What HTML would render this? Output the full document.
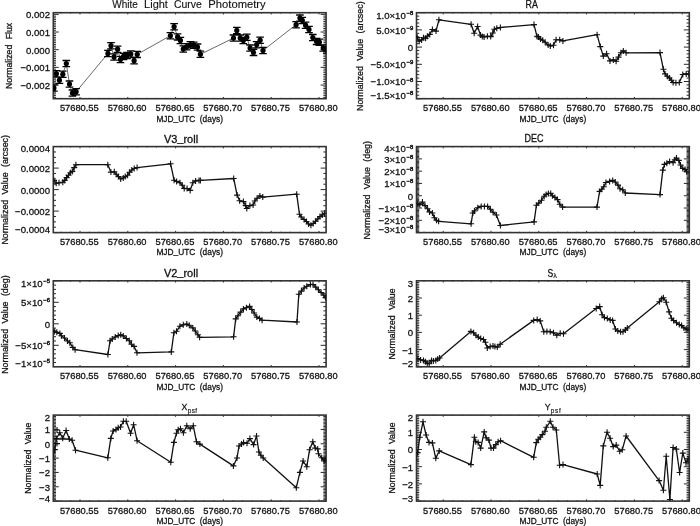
<!DOCTYPE html>
<html><head><meta charset="utf-8"><style>
html,body{margin:0;padding:0;background:#fff;}
svg{display:block;}
text{font-family:"Liberation Sans", sans-serif;fill:#111;stroke:#111;stroke-width:0.28px;}
svg{will-change:transform;}
.tl{font-size:9.6px;}
.at{font-size:9.2px;}
.ti{font-size:10.3px;}
</style></head><body>
<svg width="700" height="526" viewBox="0 0 700 526">
<rect width="700" height="526" fill="#fff"/>
<path d="M53.30 97.41h2.73M326.10 97.41h-2.73M53.30 95.64h2.73M326.10 95.64h-2.73M53.30 93.88h2.73M326.10 93.88h-2.73M53.30 92.11h2.73M326.10 92.11h-2.73M53.30 90.34h2.73M326.10 90.34h-2.73M53.30 88.58h2.73M326.10 88.58h-2.73M53.30 86.81h2.73M326.10 86.81h-2.73M53.30 85.04h5.46M326.10 85.04h-5.46M53.30 83.27h2.73M326.10 83.27h-2.73M53.30 81.51h2.73M326.10 81.51h-2.73M53.30 79.74h2.73M326.10 79.74h-2.73M53.30 77.97h2.73M326.10 77.97h-2.73M53.30 76.21h2.73M326.10 76.21h-2.73M53.30 74.44h2.73M326.10 74.44h-2.73M53.30 72.67h2.73M326.10 72.67h-2.73M53.30 70.91h2.73M326.10 70.91h-2.73M53.30 69.14h2.73M326.10 69.14h-2.73M53.30 67.37h5.46M326.10 67.37h-5.46M53.30 65.60h2.73M326.10 65.60h-2.73M53.30 63.84h2.73M326.10 63.84h-2.73M53.30 62.07h2.73M326.10 62.07h-2.73M53.30 60.30h2.73M326.10 60.30h-2.73M53.30 58.54h2.73M326.10 58.54h-2.73M53.30 56.77h2.73M326.10 56.77h-2.73M53.30 55.00h2.73M326.10 55.00h-2.73M53.30 53.24h2.73M326.10 53.24h-2.73M53.30 51.47h2.73M326.10 51.47h-2.73M53.30 49.70h5.46M326.10 49.70h-5.46M53.30 47.93h2.73M326.10 47.93h-2.73M53.30 46.17h2.73M326.10 46.17h-2.73M53.30 44.40h2.73M326.10 44.40h-2.73M53.30 42.63h2.73M326.10 42.63h-2.73M53.30 40.87h2.73M326.10 40.87h-2.73M53.30 39.10h2.73M326.10 39.10h-2.73M53.30 37.33h2.73M326.10 37.33h-2.73M53.30 35.57h2.73M326.10 35.57h-2.73M53.30 33.80h2.73M326.10 33.80h-2.73M53.30 32.03h5.46M326.10 32.03h-5.46M53.30 30.26h2.73M326.10 30.26h-2.73M53.30 28.50h2.73M326.10 28.50h-2.73M53.30 26.73h2.73M326.10 26.73h-2.73M53.30 24.96h2.73M326.10 24.96h-2.73M53.30 23.20h2.73M326.10 23.20h-2.73M53.30 21.43h2.73M326.10 21.43h-2.73M53.30 19.66h2.73M326.10 19.66h-2.73M53.30 17.89h2.73M326.10 17.89h-2.73M53.30 16.13h2.73M326.10 16.13h-2.73M53.30 14.36h5.46M326.10 14.36h-5.46M60.88 98.70v-0.86M60.88 12.70v0.86M70.44 98.70v-0.86M70.44 12.70v0.86M80.00 98.70v-1.72M80.00 12.70v1.72M89.56 98.70v-0.86M89.56 12.70v0.86M99.12 98.70v-0.86M99.12 12.70v0.86M108.68 98.70v-0.86M108.68 12.70v0.86M118.24 98.70v-0.86M118.24 12.70v0.86M127.80 98.70v-1.72M127.80 12.70v1.72M137.36 98.70v-0.86M137.36 12.70v0.86M146.92 98.70v-0.86M146.92 12.70v0.86M156.48 98.70v-0.86M156.48 12.70v0.86M166.04 98.70v-0.86M166.04 12.70v0.86M175.60 98.70v-1.72M175.60 12.70v1.72M185.16 98.70v-0.86M185.16 12.70v0.86M194.72 98.70v-0.86M194.72 12.70v0.86M204.28 98.70v-0.86M204.28 12.70v0.86M213.84 98.70v-0.86M213.84 12.70v0.86M223.40 98.70v-1.72M223.40 12.70v1.72M232.96 98.70v-0.86M232.96 12.70v0.86M242.52 98.70v-0.86M242.52 12.70v0.86M252.08 98.70v-0.86M252.08 12.70v0.86M261.64 98.70v-0.86M261.64 12.70v0.86M271.20 98.70v-1.72M271.20 12.70v1.72M280.76 98.70v-0.86M280.76 12.70v0.86M290.32 98.70v-0.86M290.32 12.70v0.86M299.88 98.70v-0.86M299.88 12.70v0.86M309.44 98.70v-0.86M309.44 12.70v0.86M319.00 98.70v-1.72M319.00 12.70v1.72" stroke="#2a2a2a" stroke-width="1.0" fill="none"/>
<rect x="53.3" y="12.7" width="272.80" height="86.0" fill="none" stroke="#333" stroke-width="1.6"/>
<text x="50.00" y="18.26" text-anchor="end" class="tl">0.002</text>
<text x="50.00" y="35.93" text-anchor="end" class="tl">0.001</text>
<text x="50.00" y="53.60" text-anchor="end" class="tl">0.000</text>
<text x="50.00" y="71.27" text-anchor="end" class="tl">−0.001</text>
<text x="50.00" y="88.94" text-anchor="end" class="tl">−0.002</text>
<text x="59.90" y="111.10" class="tl" textLength="38.8" lengthAdjust="spacingAndGlyphs">57680.55</text>
<text x="107.70" y="111.10" class="tl" textLength="38.8" lengthAdjust="spacingAndGlyphs">57680.60</text>
<text x="155.50" y="111.10" class="tl" textLength="38.8" lengthAdjust="spacingAndGlyphs">57680.65</text>
<text x="203.30" y="111.10" class="tl" textLength="38.8" lengthAdjust="spacingAndGlyphs">57680.70</text>
<text x="251.10" y="111.10" class="tl" textLength="38.8" lengthAdjust="spacingAndGlyphs">57680.75</text>
<text x="298.90" y="111.10" class="tl" textLength="38.8" lengthAdjust="spacingAndGlyphs">57680.80</text>
<text x="156.40" y="121.50" class="at" style="word-spacing:2.5px" textLength="66.6" lengthAdjust="spacingAndGlyphs">MJD<tspan dy="-1">_</tspan><tspan dy="1">UTC (days)</tspan></text>
<path d="M416.50 98.70h5.46M689.30 98.70h-5.46M416.50 95.26h2.73M689.30 95.26h-2.73M416.50 91.82h2.73M689.30 91.82h-2.73M416.50 88.38h2.73M689.30 88.38h-2.73M416.50 84.94h2.73M689.30 84.94h-2.73M416.50 81.50h5.46M689.30 81.50h-5.46M416.50 78.06h2.73M689.30 78.06h-2.73M416.50 74.62h2.73M689.30 74.62h-2.73M416.50 71.18h2.73M689.30 71.18h-2.73M416.50 67.74h2.73M689.30 67.74h-2.73M416.50 64.30h5.46M689.30 64.30h-5.46M416.50 60.86h2.73M689.30 60.86h-2.73M416.50 57.42h2.73M689.30 57.42h-2.73M416.50 53.98h2.73M689.30 53.98h-2.73M416.50 50.54h2.73M689.30 50.54h-2.73M416.50 47.10h5.46M689.30 47.10h-5.46M416.50 43.66h2.73M689.30 43.66h-2.73M416.50 40.22h2.73M689.30 40.22h-2.73M416.50 36.78h2.73M689.30 36.78h-2.73M416.50 33.34h2.73M689.30 33.34h-2.73M416.50 29.90h5.46M689.30 29.90h-5.46M416.50 26.46h2.73M689.30 26.46h-2.73M416.50 23.02h2.73M689.30 23.02h-2.73M416.50 19.58h2.73M689.30 19.58h-2.73M416.50 16.14h2.73M689.30 16.14h-2.73M416.50 12.70h5.46M689.30 12.70h-5.46M424.08 98.70v-0.86M424.08 12.70v0.86M433.64 98.70v-0.86M433.64 12.70v0.86M443.20 98.70v-1.72M443.20 12.70v1.72M452.76 98.70v-0.86M452.76 12.70v0.86M462.32 98.70v-0.86M462.32 12.70v0.86M471.88 98.70v-0.86M471.88 12.70v0.86M481.44 98.70v-0.86M481.44 12.70v0.86M491.00 98.70v-1.72M491.00 12.70v1.72M500.56 98.70v-0.86M500.56 12.70v0.86M510.12 98.70v-0.86M510.12 12.70v0.86M519.68 98.70v-0.86M519.68 12.70v0.86M529.24 98.70v-0.86M529.24 12.70v0.86M538.80 98.70v-1.72M538.80 12.70v1.72M548.36 98.70v-0.86M548.36 12.70v0.86M557.92 98.70v-0.86M557.92 12.70v0.86M567.48 98.70v-0.86M567.48 12.70v0.86M577.04 98.70v-0.86M577.04 12.70v0.86M586.60 98.70v-1.72M586.60 12.70v1.72M596.16 98.70v-0.86M596.16 12.70v0.86M605.72 98.70v-0.86M605.72 12.70v0.86M615.28 98.70v-0.86M615.28 12.70v0.86M624.84 98.70v-0.86M624.84 12.70v0.86M634.40 98.70v-1.72M634.40 12.70v1.72M643.96 98.70v-0.86M643.96 12.70v0.86M653.52 98.70v-0.86M653.52 12.70v0.86M663.08 98.70v-0.86M663.08 12.70v0.86M672.64 98.70v-0.86M672.64 12.70v0.86M682.20 98.70v-1.72M682.20 12.70v1.72" stroke="#2a2a2a" stroke-width="1.0" fill="none"/>
<rect x="416.5" y="12.7" width="272.80" height="86.0" fill="none" stroke="#333" stroke-width="1.6"/>
<text x="413.20" y="18.50" text-anchor="end" class="tl">1.0×10<tspan dx="0.7" dy="-3.9" font-size="5.9" style="stroke-width:0.45px">−8</tspan></text>
<text x="413.20" y="33.80" text-anchor="end" class="tl">5.0×10<tspan dx="0.7" dy="-3.9" font-size="5.9" style="stroke-width:0.45px">−9</tspan></text>
<text x="413.20" y="51.00" text-anchor="end" class="tl">0</text>
<text x="413.20" y="68.20" text-anchor="end" class="tl">−5.0×10<tspan dx="0.7" dy="-3.9" font-size="5.9" style="stroke-width:0.45px">−9</tspan></text>
<text x="413.20" y="85.40" text-anchor="end" class="tl">−1.0×10<tspan dx="0.7" dy="-3.9" font-size="5.9" style="stroke-width:0.45px">−8</tspan></text>
<text x="413.20" y="99.10" text-anchor="end" class="tl">−1.5×10<tspan dx="0.7" dy="-3.9" font-size="5.9" style="stroke-width:0.45px">−8</tspan></text>
<text x="423.10" y="111.10" class="tl" textLength="38.8" lengthAdjust="spacingAndGlyphs">57680.55</text>
<text x="470.90" y="111.10" class="tl" textLength="38.8" lengthAdjust="spacingAndGlyphs">57680.60</text>
<text x="518.70" y="111.10" class="tl" textLength="38.8" lengthAdjust="spacingAndGlyphs">57680.65</text>
<text x="566.50" y="111.10" class="tl" textLength="38.8" lengthAdjust="spacingAndGlyphs">57680.70</text>
<text x="614.30" y="111.10" class="tl" textLength="38.8" lengthAdjust="spacingAndGlyphs">57680.75</text>
<text x="662.10" y="111.10" class="tl" textLength="38.8" lengthAdjust="spacingAndGlyphs">57680.80</text>
<text x="519.60" y="121.50" class="at" style="word-spacing:2.5px" textLength="66.6" lengthAdjust="spacingAndGlyphs">MJD<tspan dy="-1">_</tspan><tspan dy="1">UTC (days)</tspan></text>
<path d="M53.30 232.60h5.46M326.10 232.60h-5.46M53.30 227.22h2.73M326.10 227.22h-2.73M53.30 221.85h2.73M326.10 221.85h-2.73M53.30 216.47h2.73M326.10 216.47h-2.73M53.30 211.10h5.46M326.10 211.10h-5.46M53.30 205.72h2.73M326.10 205.72h-2.73M53.30 200.35h2.73M326.10 200.35h-2.73M53.30 194.97h2.73M326.10 194.97h-2.73M53.30 189.60h5.46M326.10 189.60h-5.46M53.30 184.22h2.73M326.10 184.22h-2.73M53.30 178.85h2.73M326.10 178.85h-2.73M53.30 173.47h2.73M326.10 173.47h-2.73M53.30 168.10h5.46M326.10 168.10h-5.46M53.30 162.72h2.73M326.10 162.72h-2.73M53.30 157.35h2.73M326.10 157.35h-2.73M53.30 151.97h2.73M326.10 151.97h-2.73M60.88 232.60v-0.86M60.88 146.60v0.86M70.44 232.60v-0.86M70.44 146.60v0.86M80.00 232.60v-1.72M80.00 146.60v1.72M89.56 232.60v-0.86M89.56 146.60v0.86M99.12 232.60v-0.86M99.12 146.60v0.86M108.68 232.60v-0.86M108.68 146.60v0.86M118.24 232.60v-0.86M118.24 146.60v0.86M127.80 232.60v-1.72M127.80 146.60v1.72M137.36 232.60v-0.86M137.36 146.60v0.86M146.92 232.60v-0.86M146.92 146.60v0.86M156.48 232.60v-0.86M156.48 146.60v0.86M166.04 232.60v-0.86M166.04 146.60v0.86M175.60 232.60v-1.72M175.60 146.60v1.72M185.16 232.60v-0.86M185.16 146.60v0.86M194.72 232.60v-0.86M194.72 146.60v0.86M204.28 232.60v-0.86M204.28 146.60v0.86M213.84 232.60v-0.86M213.84 146.60v0.86M223.40 232.60v-1.72M223.40 146.60v1.72M232.96 232.60v-0.86M232.96 146.60v0.86M242.52 232.60v-0.86M242.52 146.60v0.86M252.08 232.60v-0.86M252.08 146.60v0.86M261.64 232.60v-0.86M261.64 146.60v0.86M271.20 232.60v-1.72M271.20 146.60v1.72M280.76 232.60v-0.86M280.76 146.60v0.86M290.32 232.60v-0.86M290.32 146.60v0.86M299.88 232.60v-0.86M299.88 146.60v0.86M309.44 232.60v-0.86M309.44 146.60v0.86M319.00 232.60v-1.72M319.00 146.60v1.72" stroke="#2a2a2a" stroke-width="1.0" fill="none"/>
<rect x="53.3" y="146.6" width="272.80" height="86.0" fill="none" stroke="#333" stroke-width="1.6"/>
<text x="50.00" y="152.40" text-anchor="end" class="tl">0.0004</text>
<text x="50.00" y="172.00" text-anchor="end" class="tl">0.0002</text>
<text x="50.00" y="193.50" text-anchor="end" class="tl">0.0000</text>
<text x="50.00" y="215.00" text-anchor="end" class="tl">−0.0002</text>
<text x="50.00" y="233.00" text-anchor="end" class="tl">−0.0004</text>
<text x="59.90" y="245.00" class="tl" textLength="38.8" lengthAdjust="spacingAndGlyphs">57680.55</text>
<text x="107.70" y="245.00" class="tl" textLength="38.8" lengthAdjust="spacingAndGlyphs">57680.60</text>
<text x="155.50" y="245.00" class="tl" textLength="38.8" lengthAdjust="spacingAndGlyphs">57680.65</text>
<text x="203.30" y="245.00" class="tl" textLength="38.8" lengthAdjust="spacingAndGlyphs">57680.70</text>
<text x="251.10" y="245.00" class="tl" textLength="38.8" lengthAdjust="spacingAndGlyphs">57680.75</text>
<text x="298.90" y="245.00" class="tl" textLength="38.8" lengthAdjust="spacingAndGlyphs">57680.80</text>
<text x="156.40" y="255.40" class="at" style="word-spacing:2.5px" textLength="66.6" lengthAdjust="spacingAndGlyphs">MJD<tspan dy="-1">_</tspan><tspan dy="1">UTC (days)</tspan></text>
<path d="M416.50 232.60h5.46M689.30 232.60h-5.46M416.50 231.37h2.73M689.30 231.37h-2.73M416.50 230.14h2.73M689.30 230.14h-2.73M416.50 228.91h2.73M689.30 228.91h-2.73M416.50 227.69h2.73M689.30 227.69h-2.73M416.50 226.46h2.73M689.30 226.46h-2.73M416.50 225.23h2.73M689.30 225.23h-2.73M416.50 224.00h2.73M689.30 224.00h-2.73M416.50 222.77h2.73M689.30 222.77h-2.73M416.50 221.54h2.73M689.30 221.54h-2.73M416.50 220.31h5.46M689.30 220.31h-5.46M416.50 219.09h2.73M689.30 219.09h-2.73M416.50 217.86h2.73M689.30 217.86h-2.73M416.50 216.63h2.73M689.30 216.63h-2.73M416.50 215.40h2.73M689.30 215.40h-2.73M416.50 214.17h2.73M689.30 214.17h-2.73M416.50 212.94h2.73M689.30 212.94h-2.73M416.50 211.71h2.73M689.30 211.71h-2.73M416.50 210.49h2.73M689.30 210.49h-2.73M416.50 209.26h2.73M689.30 209.26h-2.73M416.50 208.03h5.46M689.30 208.03h-5.46M416.50 206.80h2.73M689.30 206.80h-2.73M416.50 205.57h2.73M689.30 205.57h-2.73M416.50 204.34h2.73M689.30 204.34h-2.73M416.50 203.11h2.73M689.30 203.11h-2.73M416.50 201.89h2.73M689.30 201.89h-2.73M416.50 200.66h2.73M689.30 200.66h-2.73M416.50 199.43h2.73M689.30 199.43h-2.73M416.50 198.20h2.73M689.30 198.20h-2.73M416.50 196.97h2.73M689.30 196.97h-2.73M416.50 195.74h5.46M689.30 195.74h-5.46M416.50 194.51h2.73M689.30 194.51h-2.73M416.50 193.29h2.73M689.30 193.29h-2.73M416.50 192.06h2.73M689.30 192.06h-2.73M416.50 190.83h2.73M689.30 190.83h-2.73M416.50 189.60h2.73M689.30 189.60h-2.73M416.50 188.37h2.73M689.30 188.37h-2.73M416.50 187.14h2.73M689.30 187.14h-2.73M416.50 185.91h2.73M689.30 185.91h-2.73M416.50 184.69h2.73M689.30 184.69h-2.73M416.50 183.46h5.46M689.30 183.46h-5.46M416.50 182.23h2.73M689.30 182.23h-2.73M416.50 181.00h2.73M689.30 181.00h-2.73M416.50 179.77h2.73M689.30 179.77h-2.73M416.50 178.54h2.73M689.30 178.54h-2.73M416.50 177.31h2.73M689.30 177.31h-2.73M416.50 176.09h2.73M689.30 176.09h-2.73M416.50 174.86h2.73M689.30 174.86h-2.73M416.50 173.63h2.73M689.30 173.63h-2.73M416.50 172.40h2.73M689.30 172.40h-2.73M416.50 171.17h5.46M689.30 171.17h-5.46M416.50 169.94h2.73M689.30 169.94h-2.73M416.50 168.71h2.73M689.30 168.71h-2.73M416.50 167.49h2.73M689.30 167.49h-2.73M416.50 166.26h2.73M689.30 166.26h-2.73M416.50 165.03h2.73M689.30 165.03h-2.73M416.50 163.80h2.73M689.30 163.80h-2.73M416.50 162.57h2.73M689.30 162.57h-2.73M416.50 161.34h2.73M689.30 161.34h-2.73M416.50 160.11h2.73M689.30 160.11h-2.73M416.50 158.89h5.46M689.30 158.89h-5.46M416.50 157.66h2.73M689.30 157.66h-2.73M416.50 156.43h2.73M689.30 156.43h-2.73M416.50 155.20h2.73M689.30 155.20h-2.73M416.50 153.97h2.73M689.30 153.97h-2.73M416.50 152.74h2.73M689.30 152.74h-2.73M416.50 151.51h2.73M689.30 151.51h-2.73M416.50 150.29h2.73M689.30 150.29h-2.73M416.50 149.06h2.73M689.30 149.06h-2.73M416.50 147.83h2.73M689.30 147.83h-2.73M416.50 146.60h5.46M689.30 146.60h-5.46M424.08 232.60v-0.86M424.08 146.60v0.86M433.64 232.60v-0.86M433.64 146.60v0.86M443.20 232.60v-1.72M443.20 146.60v1.72M452.76 232.60v-0.86M452.76 146.60v0.86M462.32 232.60v-0.86M462.32 146.60v0.86M471.88 232.60v-0.86M471.88 146.60v0.86M481.44 232.60v-0.86M481.44 146.60v0.86M491.00 232.60v-1.72M491.00 146.60v1.72M500.56 232.60v-0.86M500.56 146.60v0.86M510.12 232.60v-0.86M510.12 146.60v0.86M519.68 232.60v-0.86M519.68 146.60v0.86M529.24 232.60v-0.86M529.24 146.60v0.86M538.80 232.60v-1.72M538.80 146.60v1.72M548.36 232.60v-0.86M548.36 146.60v0.86M557.92 232.60v-0.86M557.92 146.60v0.86M567.48 232.60v-0.86M567.48 146.60v0.86M577.04 232.60v-0.86M577.04 146.60v0.86M586.60 232.60v-1.72M586.60 146.60v1.72M596.16 232.60v-0.86M596.16 146.60v0.86M605.72 232.60v-0.86M605.72 146.60v0.86M615.28 232.60v-0.86M615.28 146.60v0.86M624.84 232.60v-0.86M624.84 146.60v0.86M634.40 232.60v-1.72M634.40 146.60v1.72M643.96 232.60v-0.86M643.96 146.60v0.86M653.52 232.60v-0.86M653.52 146.60v0.86M663.08 232.60v-0.86M663.08 146.60v0.86M672.64 232.60v-0.86M672.64 146.60v0.86M682.20 232.60v-1.72M682.20 146.60v1.72" stroke="#2a2a2a" stroke-width="1.0" fill="none"/>
<rect x="416.5" y="146.6" width="272.80" height="86.0" fill="none" stroke="#333" stroke-width="1.6"/>
<text x="413.20" y="152.40" text-anchor="end" class="tl">4×10<tspan dx="0.7" dy="-3.9" font-size="5.9" style="stroke-width:0.45px">−8</tspan></text>
<text x="413.20" y="162.79" text-anchor="end" class="tl">3×10<tspan dx="0.7" dy="-3.9" font-size="5.9" style="stroke-width:0.45px">−8</tspan></text>
<text x="413.20" y="175.07" text-anchor="end" class="tl">2×10<tspan dx="0.7" dy="-3.9" font-size="5.9" style="stroke-width:0.45px">−8</tspan></text>
<text x="413.20" y="187.36" text-anchor="end" class="tl">1×10<tspan dx="0.7" dy="-3.9" font-size="5.9" style="stroke-width:0.45px">−8</tspan></text>
<text x="413.20" y="199.64" text-anchor="end" class="tl">0</text>
<text x="413.20" y="211.93" text-anchor="end" class="tl">−1×10<tspan dx="0.7" dy="-3.9" font-size="5.9" style="stroke-width:0.45px">−8</tspan></text>
<text x="413.20" y="224.21" text-anchor="end" class="tl">−2×10<tspan dx="0.7" dy="-3.9" font-size="5.9" style="stroke-width:0.45px">−8</tspan></text>
<text x="413.20" y="233.00" text-anchor="end" class="tl">−3×10<tspan dx="0.7" dy="-3.9" font-size="5.9" style="stroke-width:0.45px">−8</tspan></text>
<text x="423.10" y="245.00" class="tl" textLength="38.8" lengthAdjust="spacingAndGlyphs">57680.55</text>
<text x="470.90" y="245.00" class="tl" textLength="38.8" lengthAdjust="spacingAndGlyphs">57680.60</text>
<text x="518.70" y="245.00" class="tl" textLength="38.8" lengthAdjust="spacingAndGlyphs">57680.65</text>
<text x="566.50" y="245.00" class="tl" textLength="38.8" lengthAdjust="spacingAndGlyphs">57680.70</text>
<text x="614.30" y="245.00" class="tl" textLength="38.8" lengthAdjust="spacingAndGlyphs">57680.75</text>
<text x="662.10" y="245.00" class="tl" textLength="38.8" lengthAdjust="spacingAndGlyphs">57680.80</text>
<text x="519.60" y="255.40" class="at" style="word-spacing:2.5px" textLength="66.6" lengthAdjust="spacingAndGlyphs">MJD<tspan dy="-1">_</tspan><tspan dy="1">UTC (days)</tspan></text>
<path d="M53.30 362.50h2.73M326.10 362.50h-2.73M53.30 358.20h2.73M326.10 358.20h-2.73M53.30 353.90h2.73M326.10 353.90h-2.73M53.30 349.60h2.73M326.10 349.60h-2.73M53.30 345.30h5.46M326.10 345.30h-5.46M53.30 341.00h2.73M326.10 341.00h-2.73M53.30 336.70h2.73M326.10 336.70h-2.73M53.30 332.40h2.73M326.10 332.40h-2.73M53.30 328.10h2.73M326.10 328.10h-2.73M53.30 323.80h5.46M326.10 323.80h-5.46M53.30 319.50h2.73M326.10 319.50h-2.73M53.30 315.20h2.73M326.10 315.20h-2.73M53.30 310.90h2.73M326.10 310.90h-2.73M53.30 306.60h2.73M326.10 306.60h-2.73M53.30 302.30h5.46M326.10 302.30h-5.46M53.30 298.00h2.73M326.10 298.00h-2.73M53.30 293.70h2.73M326.10 293.70h-2.73M53.30 289.40h2.73M326.10 289.40h-2.73M53.30 285.10h2.73M326.10 285.10h-2.73M53.30 280.80h5.46M326.10 280.80h-5.46M60.88 366.80v-0.86M60.88 280.80v0.86M70.44 366.80v-0.86M70.44 280.80v0.86M80.00 366.80v-1.72M80.00 280.80v1.72M89.56 366.80v-0.86M89.56 280.80v0.86M99.12 366.80v-0.86M99.12 280.80v0.86M108.68 366.80v-0.86M108.68 280.80v0.86M118.24 366.80v-0.86M118.24 280.80v0.86M127.80 366.80v-1.72M127.80 280.80v1.72M137.36 366.80v-0.86M137.36 280.80v0.86M146.92 366.80v-0.86M146.92 280.80v0.86M156.48 366.80v-0.86M156.48 280.80v0.86M166.04 366.80v-0.86M166.04 280.80v0.86M175.60 366.80v-1.72M175.60 280.80v1.72M185.16 366.80v-0.86M185.16 280.80v0.86M194.72 366.80v-0.86M194.72 280.80v0.86M204.28 366.80v-0.86M204.28 280.80v0.86M213.84 366.80v-0.86M213.84 280.80v0.86M223.40 366.80v-1.72M223.40 280.80v1.72M232.96 366.80v-0.86M232.96 280.80v0.86M242.52 366.80v-0.86M242.52 280.80v0.86M252.08 366.80v-0.86M252.08 280.80v0.86M261.64 366.80v-0.86M261.64 280.80v0.86M271.20 366.80v-1.72M271.20 280.80v1.72M280.76 366.80v-0.86M280.76 280.80v0.86M290.32 366.80v-0.86M290.32 280.80v0.86M299.88 366.80v-0.86M299.88 280.80v0.86M309.44 366.80v-0.86M309.44 280.80v0.86M319.00 366.80v-1.72M319.00 280.80v1.72" stroke="#2a2a2a" stroke-width="1.0" fill="none"/>
<rect x="53.3" y="280.8" width="272.80" height="86.0" fill="none" stroke="#333" stroke-width="1.6"/>
<text x="50.00" y="286.60" text-anchor="end" class="tl">1×10<tspan dx="0.7" dy="-3.9" font-size="5.9" style="stroke-width:0.45px">−5</tspan></text>
<text x="50.00" y="306.20" text-anchor="end" class="tl">5×10<tspan dx="0.7" dy="-3.9" font-size="5.9" style="stroke-width:0.45px">−6</tspan></text>
<text x="50.00" y="327.70" text-anchor="end" class="tl">0</text>
<text x="50.00" y="349.20" text-anchor="end" class="tl">−5×10<tspan dx="0.7" dy="-3.9" font-size="5.9" style="stroke-width:0.45px">−6</tspan></text>
<text x="50.00" y="367.20" text-anchor="end" class="tl">−1×10<tspan dx="0.7" dy="-3.9" font-size="5.9" style="stroke-width:0.45px">−5</tspan></text>
<text x="59.90" y="379.20" class="tl" textLength="38.8" lengthAdjust="spacingAndGlyphs">57680.55</text>
<text x="107.70" y="379.20" class="tl" textLength="38.8" lengthAdjust="spacingAndGlyphs">57680.60</text>
<text x="155.50" y="379.20" class="tl" textLength="38.8" lengthAdjust="spacingAndGlyphs">57680.65</text>
<text x="203.30" y="379.20" class="tl" textLength="38.8" lengthAdjust="spacingAndGlyphs">57680.70</text>
<text x="251.10" y="379.20" class="tl" textLength="38.8" lengthAdjust="spacingAndGlyphs">57680.75</text>
<text x="298.90" y="379.20" class="tl" textLength="38.8" lengthAdjust="spacingAndGlyphs">57680.80</text>
<text x="156.40" y="389.60" class="at" style="word-spacing:2.5px" textLength="66.6" lengthAdjust="spacingAndGlyphs">MJD<tspan dy="-1">_</tspan><tspan dy="1">UTC (days)</tspan></text>
<path d="M416.50 366.80h5.46M689.30 366.80h-5.46M416.50 365.08h2.73M689.30 365.08h-2.73M416.50 363.36h2.73M689.30 363.36h-2.73M416.50 361.64h2.73M689.30 361.64h-2.73M416.50 359.92h2.73M689.30 359.92h-2.73M416.50 358.20h2.73M689.30 358.20h-2.73M416.50 356.48h2.73M689.30 356.48h-2.73M416.50 354.76h2.73M689.30 354.76h-2.73M416.50 353.04h2.73M689.30 353.04h-2.73M416.50 351.32h2.73M689.30 351.32h-2.73M416.50 349.60h5.46M689.30 349.60h-5.46M416.50 347.88h2.73M689.30 347.88h-2.73M416.50 346.16h2.73M689.30 346.16h-2.73M416.50 344.44h2.73M689.30 344.44h-2.73M416.50 342.72h2.73M689.30 342.72h-2.73M416.50 341.00h2.73M689.30 341.00h-2.73M416.50 339.28h2.73M689.30 339.28h-2.73M416.50 337.56h2.73M689.30 337.56h-2.73M416.50 335.84h2.73M689.30 335.84h-2.73M416.50 334.12h2.73M689.30 334.12h-2.73M416.50 332.40h5.46M689.30 332.40h-5.46M416.50 330.68h2.73M689.30 330.68h-2.73M416.50 328.96h2.73M689.30 328.96h-2.73M416.50 327.24h2.73M689.30 327.24h-2.73M416.50 325.52h2.73M689.30 325.52h-2.73M416.50 323.80h2.73M689.30 323.80h-2.73M416.50 322.08h2.73M689.30 322.08h-2.73M416.50 320.36h2.73M689.30 320.36h-2.73M416.50 318.64h2.73M689.30 318.64h-2.73M416.50 316.92h2.73M689.30 316.92h-2.73M416.50 315.20h5.46M689.30 315.20h-5.46M416.50 313.48h2.73M689.30 313.48h-2.73M416.50 311.76h2.73M689.30 311.76h-2.73M416.50 310.04h2.73M689.30 310.04h-2.73M416.50 308.32h2.73M689.30 308.32h-2.73M416.50 306.60h2.73M689.30 306.60h-2.73M416.50 304.88h2.73M689.30 304.88h-2.73M416.50 303.16h2.73M689.30 303.16h-2.73M416.50 301.44h2.73M689.30 301.44h-2.73M416.50 299.72h2.73M689.30 299.72h-2.73M416.50 298.00h5.46M689.30 298.00h-5.46M416.50 296.28h2.73M689.30 296.28h-2.73M416.50 294.56h2.73M689.30 294.56h-2.73M416.50 292.84h2.73M689.30 292.84h-2.73M416.50 291.12h2.73M689.30 291.12h-2.73M416.50 289.40h2.73M689.30 289.40h-2.73M416.50 287.68h2.73M689.30 287.68h-2.73M416.50 285.96h2.73M689.30 285.96h-2.73M416.50 284.24h2.73M689.30 284.24h-2.73M416.50 282.52h2.73M689.30 282.52h-2.73M424.08 366.80v-0.86M424.08 280.80v0.86M433.64 366.80v-0.86M433.64 280.80v0.86M443.20 366.80v-1.72M443.20 280.80v1.72M452.76 366.80v-0.86M452.76 280.80v0.86M462.32 366.80v-0.86M462.32 280.80v0.86M471.88 366.80v-0.86M471.88 280.80v0.86M481.44 366.80v-0.86M481.44 280.80v0.86M491.00 366.80v-1.72M491.00 280.80v1.72M500.56 366.80v-0.86M500.56 280.80v0.86M510.12 366.80v-0.86M510.12 280.80v0.86M519.68 366.80v-0.86M519.68 280.80v0.86M529.24 366.80v-0.86M529.24 280.80v0.86M538.80 366.80v-1.72M538.80 280.80v1.72M548.36 366.80v-0.86M548.36 280.80v0.86M557.92 366.80v-0.86M557.92 280.80v0.86M567.48 366.80v-0.86M567.48 280.80v0.86M577.04 366.80v-0.86M577.04 280.80v0.86M586.60 366.80v-1.72M586.60 280.80v1.72M596.16 366.80v-0.86M596.16 280.80v0.86M605.72 366.80v-0.86M605.72 280.80v0.86M615.28 366.80v-0.86M615.28 280.80v0.86M624.84 366.80v-0.86M624.84 280.80v0.86M634.40 366.80v-1.72M634.40 280.80v1.72M643.96 366.80v-0.86M643.96 280.80v0.86M653.52 366.80v-0.86M653.52 280.80v0.86M663.08 366.80v-0.86M663.08 280.80v0.86M672.64 366.80v-0.86M672.64 280.80v0.86M682.20 366.80v-1.72M682.20 280.80v1.72" stroke="#2a2a2a" stroke-width="1.0" fill="none"/>
<rect x="416.5" y="280.8" width="272.80" height="86.0" fill="none" stroke="#333" stroke-width="1.6"/>
<text x="413.20" y="286.60" text-anchor="end" class="tl">3</text>
<text x="413.20" y="301.90" text-anchor="end" class="tl">2</text>
<text x="413.20" y="319.10" text-anchor="end" class="tl">1</text>
<text x="413.20" y="336.30" text-anchor="end" class="tl">0</text>
<text x="413.20" y="353.50" text-anchor="end" class="tl">−1</text>
<text x="413.20" y="367.20" text-anchor="end" class="tl">−2</text>
<text x="423.10" y="379.20" class="tl" textLength="38.8" lengthAdjust="spacingAndGlyphs">57680.55</text>
<text x="470.90" y="379.20" class="tl" textLength="38.8" lengthAdjust="spacingAndGlyphs">57680.60</text>
<text x="518.70" y="379.20" class="tl" textLength="38.8" lengthAdjust="spacingAndGlyphs">57680.65</text>
<text x="566.50" y="379.20" class="tl" textLength="38.8" lengthAdjust="spacingAndGlyphs">57680.70</text>
<text x="614.30" y="379.20" class="tl" textLength="38.8" lengthAdjust="spacingAndGlyphs">57680.75</text>
<text x="662.10" y="379.20" class="tl" textLength="38.8" lengthAdjust="spacingAndGlyphs">57680.80</text>
<text x="519.60" y="389.60" class="at" style="word-spacing:2.5px" textLength="66.6" lengthAdjust="spacingAndGlyphs">MJD<tspan dy="-1">_</tspan><tspan dy="1">UTC (days)</tspan></text>
<path d="M53.30 501.10h5.46M326.10 501.10h-5.46M53.30 499.67h2.73M326.10 499.67h-2.73M53.30 498.23h2.73M326.10 498.23h-2.73M53.30 496.80h2.73M326.10 496.80h-2.73M53.30 495.37h2.73M326.10 495.37h-2.73M53.30 493.93h2.73M326.10 493.93h-2.73M53.30 492.50h2.73M326.10 492.50h-2.73M53.30 491.07h2.73M326.10 491.07h-2.73M53.30 489.63h2.73M326.10 489.63h-2.73M53.30 488.20h2.73M326.10 488.20h-2.73M53.30 486.77h5.46M326.10 486.77h-5.46M53.30 485.33h2.73M326.10 485.33h-2.73M53.30 483.90h2.73M326.10 483.90h-2.73M53.30 482.47h2.73M326.10 482.47h-2.73M53.30 481.03h2.73M326.10 481.03h-2.73M53.30 479.60h2.73M326.10 479.60h-2.73M53.30 478.17h2.73M326.10 478.17h-2.73M53.30 476.73h2.73M326.10 476.73h-2.73M53.30 475.30h2.73M326.10 475.30h-2.73M53.30 473.87h2.73M326.10 473.87h-2.73M53.30 472.43h5.46M326.10 472.43h-5.46M53.30 471.00h2.73M326.10 471.00h-2.73M53.30 469.57h2.73M326.10 469.57h-2.73M53.30 468.13h2.73M326.10 468.13h-2.73M53.30 466.70h2.73M326.10 466.70h-2.73M53.30 465.27h2.73M326.10 465.27h-2.73M53.30 463.83h2.73M326.10 463.83h-2.73M53.30 462.40h2.73M326.10 462.40h-2.73M53.30 460.97h2.73M326.10 460.97h-2.73M53.30 459.53h2.73M326.10 459.53h-2.73M53.30 458.10h5.46M326.10 458.10h-5.46M53.30 456.67h2.73M326.10 456.67h-2.73M53.30 455.23h2.73M326.10 455.23h-2.73M53.30 453.80h2.73M326.10 453.80h-2.73M53.30 452.37h2.73M326.10 452.37h-2.73M53.30 450.93h2.73M326.10 450.93h-2.73M53.30 449.50h2.73M326.10 449.50h-2.73M53.30 448.07h2.73M326.10 448.07h-2.73M53.30 446.63h2.73M326.10 446.63h-2.73M53.30 445.20h2.73M326.10 445.20h-2.73M53.30 443.77h5.46M326.10 443.77h-5.46M53.30 442.33h2.73M326.10 442.33h-2.73M53.30 440.90h2.73M326.10 440.90h-2.73M53.30 439.47h2.73M326.10 439.47h-2.73M53.30 438.03h2.73M326.10 438.03h-2.73M53.30 436.60h2.73M326.10 436.60h-2.73M53.30 435.17h2.73M326.10 435.17h-2.73M53.30 433.73h2.73M326.10 433.73h-2.73M53.30 432.30h2.73M326.10 432.30h-2.73M53.30 430.87h2.73M326.10 430.87h-2.73M53.30 429.43h5.46M326.10 429.43h-5.46M53.30 428.00h2.73M326.10 428.00h-2.73M53.30 426.57h2.73M326.10 426.57h-2.73M53.30 425.13h2.73M326.10 425.13h-2.73M53.30 423.70h2.73M326.10 423.70h-2.73M53.30 422.27h2.73M326.10 422.27h-2.73M53.30 420.83h2.73M326.10 420.83h-2.73M53.30 419.40h2.73M326.10 419.40h-2.73M53.30 417.97h2.73M326.10 417.97h-2.73M53.30 416.53h2.73M326.10 416.53h-2.73M60.88 501.10v-0.86M60.88 415.10v0.86M70.44 501.10v-0.86M70.44 415.10v0.86M80.00 501.10v-1.72M80.00 415.10v1.72M89.56 501.10v-0.86M89.56 415.10v0.86M99.12 501.10v-0.86M99.12 415.10v0.86M108.68 501.10v-0.86M108.68 415.10v0.86M118.24 501.10v-0.86M118.24 415.10v0.86M127.80 501.10v-1.72M127.80 415.10v1.72M137.36 501.10v-0.86M137.36 415.10v0.86M146.92 501.10v-0.86M146.92 415.10v0.86M156.48 501.10v-0.86M156.48 415.10v0.86M166.04 501.10v-0.86M166.04 415.10v0.86M175.60 501.10v-1.72M175.60 415.10v1.72M185.16 501.10v-0.86M185.16 415.10v0.86M194.72 501.10v-0.86M194.72 415.10v0.86M204.28 501.10v-0.86M204.28 415.10v0.86M213.84 501.10v-0.86M213.84 415.10v0.86M223.40 501.10v-1.72M223.40 415.10v1.72M232.96 501.10v-0.86M232.96 415.10v0.86M242.52 501.10v-0.86M242.52 415.10v0.86M252.08 501.10v-0.86M252.08 415.10v0.86M261.64 501.10v-0.86M261.64 415.10v0.86M271.20 501.10v-1.72M271.20 415.10v1.72M280.76 501.10v-0.86M280.76 415.10v0.86M290.32 501.10v-0.86M290.32 415.10v0.86M299.88 501.10v-0.86M299.88 415.10v0.86M309.44 501.10v-0.86M309.44 415.10v0.86M319.00 501.10v-1.72M319.00 415.10v1.72" stroke="#2a2a2a" stroke-width="1.0" fill="none"/>
<rect x="53.3" y="415.1" width="272.80" height="86.0" fill="none" stroke="#333" stroke-width="1.6"/>
<text x="50.00" y="420.90" text-anchor="end" class="tl">2</text>
<text x="50.00" y="433.33" text-anchor="end" class="tl">1</text>
<text x="50.00" y="447.67" text-anchor="end" class="tl">0</text>
<text x="50.00" y="462.00" text-anchor="end" class="tl">−1</text>
<text x="50.00" y="476.33" text-anchor="end" class="tl">−2</text>
<text x="50.00" y="490.67" text-anchor="end" class="tl">−3</text>
<text x="50.00" y="501.50" text-anchor="end" class="tl">−4</text>
<text x="59.90" y="513.50" class="tl" textLength="38.8" lengthAdjust="spacingAndGlyphs">57680.55</text>
<text x="107.70" y="513.50" class="tl" textLength="38.8" lengthAdjust="spacingAndGlyphs">57680.60</text>
<text x="155.50" y="513.50" class="tl" textLength="38.8" lengthAdjust="spacingAndGlyphs">57680.65</text>
<text x="203.30" y="513.50" class="tl" textLength="38.8" lengthAdjust="spacingAndGlyphs">57680.70</text>
<text x="251.10" y="513.50" class="tl" textLength="38.8" lengthAdjust="spacingAndGlyphs">57680.75</text>
<text x="298.90" y="513.50" class="tl" textLength="38.8" lengthAdjust="spacingAndGlyphs">57680.80</text>
<text x="156.40" y="523.90" class="at" style="word-spacing:2.5px" textLength="66.6" lengthAdjust="spacingAndGlyphs">MJD<tspan dy="-1">_</tspan><tspan dy="1">UTC (days)</tspan></text>
<path d="M416.50 501.10h5.46M689.30 501.10h-5.46M416.50 499.38h2.73M689.30 499.38h-2.73M416.50 497.66h2.73M689.30 497.66h-2.73M416.50 495.94h2.73M689.30 495.94h-2.73M416.50 494.22h2.73M689.30 494.22h-2.73M416.50 492.50h2.73M689.30 492.50h-2.73M416.50 490.78h2.73M689.30 490.78h-2.73M416.50 489.06h2.73M689.30 489.06h-2.73M416.50 487.34h2.73M689.30 487.34h-2.73M416.50 485.62h2.73M689.30 485.62h-2.73M416.50 483.90h5.46M689.30 483.90h-5.46M416.50 482.18h2.73M689.30 482.18h-2.73M416.50 480.46h2.73M689.30 480.46h-2.73M416.50 478.74h2.73M689.30 478.74h-2.73M416.50 477.02h2.73M689.30 477.02h-2.73M416.50 475.30h2.73M689.30 475.30h-2.73M416.50 473.58h2.73M689.30 473.58h-2.73M416.50 471.86h2.73M689.30 471.86h-2.73M416.50 470.14h2.73M689.30 470.14h-2.73M416.50 468.42h2.73M689.30 468.42h-2.73M416.50 466.70h5.46M689.30 466.70h-5.46M416.50 464.98h2.73M689.30 464.98h-2.73M416.50 463.26h2.73M689.30 463.26h-2.73M416.50 461.54h2.73M689.30 461.54h-2.73M416.50 459.82h2.73M689.30 459.82h-2.73M416.50 458.10h2.73M689.30 458.10h-2.73M416.50 456.38h2.73M689.30 456.38h-2.73M416.50 454.66h2.73M689.30 454.66h-2.73M416.50 452.94h2.73M689.30 452.94h-2.73M416.50 451.22h2.73M689.30 451.22h-2.73M416.50 449.50h5.46M689.30 449.50h-5.46M416.50 447.78h2.73M689.30 447.78h-2.73M416.50 446.06h2.73M689.30 446.06h-2.73M416.50 444.34h2.73M689.30 444.34h-2.73M416.50 442.62h2.73M689.30 442.62h-2.73M416.50 440.90h2.73M689.30 440.90h-2.73M416.50 439.18h2.73M689.30 439.18h-2.73M416.50 437.46h2.73M689.30 437.46h-2.73M416.50 435.74h2.73M689.30 435.74h-2.73M416.50 434.02h2.73M689.30 434.02h-2.73M416.50 432.30h5.46M689.30 432.30h-5.46M416.50 430.58h2.73M689.30 430.58h-2.73M416.50 428.86h2.73M689.30 428.86h-2.73M416.50 427.14h2.73M689.30 427.14h-2.73M416.50 425.42h2.73M689.30 425.42h-2.73M416.50 423.70h2.73M689.30 423.70h-2.73M416.50 421.98h2.73M689.30 421.98h-2.73M416.50 420.26h2.73M689.30 420.26h-2.73M416.50 418.54h2.73M689.30 418.54h-2.73M416.50 416.82h2.73M689.30 416.82h-2.73M424.08 501.10v-0.86M424.08 415.10v0.86M433.64 501.10v-0.86M433.64 415.10v0.86M443.20 501.10v-1.72M443.20 415.10v1.72M452.76 501.10v-0.86M452.76 415.10v0.86M462.32 501.10v-0.86M462.32 415.10v0.86M471.88 501.10v-0.86M471.88 415.10v0.86M481.44 501.10v-0.86M481.44 415.10v0.86M491.00 501.10v-1.72M491.00 415.10v1.72M500.56 501.10v-0.86M500.56 415.10v0.86M510.12 501.10v-0.86M510.12 415.10v0.86M519.68 501.10v-0.86M519.68 415.10v0.86M529.24 501.10v-0.86M529.24 415.10v0.86M538.80 501.10v-1.72M538.80 415.10v1.72M548.36 501.10v-0.86M548.36 415.10v0.86M557.92 501.10v-0.86M557.92 415.10v0.86M567.48 501.10v-0.86M567.48 415.10v0.86M577.04 501.10v-0.86M577.04 415.10v0.86M586.60 501.10v-1.72M586.60 415.10v1.72M596.16 501.10v-0.86M596.16 415.10v0.86M605.72 501.10v-0.86M605.72 415.10v0.86M615.28 501.10v-0.86M615.28 415.10v0.86M624.84 501.10v-0.86M624.84 415.10v0.86M634.40 501.10v-1.72M634.40 415.10v1.72M643.96 501.10v-0.86M643.96 415.10v0.86M653.52 501.10v-0.86M653.52 415.10v0.86M663.08 501.10v-0.86M663.08 415.10v0.86M672.64 501.10v-0.86M672.64 415.10v0.86M682.20 501.10v-1.72M682.20 415.10v1.72" stroke="#2a2a2a" stroke-width="1.0" fill="none"/>
<rect x="416.5" y="415.1" width="272.80" height="86.0" fill="none" stroke="#333" stroke-width="1.6"/>
<text x="413.20" y="420.90" text-anchor="end" class="tl">2</text>
<text x="413.20" y="436.20" text-anchor="end" class="tl">1</text>
<text x="413.20" y="453.40" text-anchor="end" class="tl">0</text>
<text x="413.20" y="470.60" text-anchor="end" class="tl">−1</text>
<text x="413.20" y="487.80" text-anchor="end" class="tl">−2</text>
<text x="413.20" y="501.50" text-anchor="end" class="tl">−3</text>
<text x="423.10" y="513.50" class="tl" textLength="38.8" lengthAdjust="spacingAndGlyphs">57680.55</text>
<text x="470.90" y="513.50" class="tl" textLength="38.8" lengthAdjust="spacingAndGlyphs">57680.60</text>
<text x="518.70" y="513.50" class="tl" textLength="38.8" lengthAdjust="spacingAndGlyphs">57680.65</text>
<text x="566.50" y="513.50" class="tl" textLength="38.8" lengthAdjust="spacingAndGlyphs">57680.70</text>
<text x="614.30" y="513.50" class="tl" textLength="38.8" lengthAdjust="spacingAndGlyphs">57680.75</text>
<text x="662.10" y="513.50" class="tl" textLength="38.8" lengthAdjust="spacingAndGlyphs">57680.80</text>
<text x="519.60" y="523.90" class="at" style="word-spacing:2.5px" textLength="66.6" lengthAdjust="spacingAndGlyphs">MJD<tspan dy="-1">_</tspan><tspan dy="1">UTC (days)</tspan></text>
<text x="112.2" y="8.4" class="ti" style="font-size:10.7px;stroke-width:0.12px" textLength="25.6" lengthAdjust="spacingAndGlyphs">White</text>
<text x="144.1" y="8.4" class="ti" style="font-size:10.7px;stroke-width:0.12px" textLength="23.8" lengthAdjust="spacingAndGlyphs">Light</text>
<text x="173.9" y="8.4" class="ti" style="font-size:10.7px;stroke-width:0.12px" textLength="27.9" lengthAdjust="spacingAndGlyphs">Curve</text>
<text x="208.3" y="8.4" class="ti" style="font-size:10.7px;stroke-width:0.12px" textLength="57.4" lengthAdjust="spacingAndGlyphs">Photometry</text>
<text x="525.6" y="7.9" class="ti" textLength="12.3" lengthAdjust="spacingAndGlyphs">RA</text>
<text x="163.9" y="142.5" class="ti" textLength="34.2" lengthAdjust="spacingAndGlyphs">V3<tspan dy="-0.9">_</tspan><tspan dy="0.9">roll</tspan></text>
<text x="524.6" y="142.4" class="ti" textLength="19.0" lengthAdjust="spacingAndGlyphs">DEC</text>
<text x="163.9" y="276.6" class="ti" textLength="34.2" lengthAdjust="spacingAndGlyphs">V2<tspan dy="-0.9">_</tspan><tspan dy="0.9">roll</tspan></text>
<text x="547.5" y="276.7" class="ti" style="font-size:10.6px" textLength="5.7" lengthAdjust="spacingAndGlyphs">S</text>
<text x="553.2" y="278.4" class="ti" style="font-size:7.2px;stroke-width:0.15px" textLength="4.7" lengthAdjust="spacing">λ</text>
<text x="181.5" y="410.1" class="ti" style="font-size:9.8px" textLength="5.8" lengthAdjust="spacingAndGlyphs">X</text>
<text x="187.7" y="412.8" class="ti" style="font-size:6.4px;stroke-width:0.15px" textLength="9.4" lengthAdjust="spacing">psf</text>
<text x="544.7" y="410.1" class="ti" style="font-size:9.8px" textLength="5.8" lengthAdjust="spacingAndGlyphs">Y</text>
<text x="550.8" y="412.8" class="ti" style="font-size:6.4px;stroke-width:0.15px" textLength="9.9" lengthAdjust="spacing">psf</text>
<text transform="translate(12.10,55.90) rotate(-90)" x="-33.10" class="at" style="word-spacing:3px" textLength="66.2" lengthAdjust="spacingAndGlyphs">Normalized Flux</text>
<text transform="translate(362.70,56.20) rotate(-90)" x="-54.80" class="at" style="word-spacing:3px" textLength="109.6" lengthAdjust="spacingAndGlyphs">Normalized Value (arcsec)</text>
<text transform="translate(7.60,189.80) rotate(-90)" x="-54.80" class="at" style="word-spacing:3px" textLength="109.6" lengthAdjust="spacingAndGlyphs">Normalized Value (arcsec)</text>
<text transform="translate(370.30,190.20) rotate(-90)" x="-49.20" class="at" style="word-spacing:3px" textLength="98.4" lengthAdjust="spacingAndGlyphs">Normalized Value (deg)</text>
<text transform="translate(7.60,324.60) rotate(-90)" x="-49.20" class="at" style="word-spacing:3px" textLength="98.4" lengthAdjust="spacingAndGlyphs">Normalized Value (deg)</text>
<text transform="translate(394.80,324.00) rotate(-90)" x="-35.60" class="at" style="word-spacing:3px" textLength="71.2" lengthAdjust="spacingAndGlyphs">Normalized Value</text>
<text transform="translate(31.00,458.20) rotate(-90)" x="-35.50" class="at" style="word-spacing:3px" textLength="71.0" lengthAdjust="spacingAndGlyphs">Normalized Value</text>
<text transform="translate(395.10,458.00) rotate(-90)" x="-35.60" class="at" style="word-spacing:3px" textLength="71.2" lengthAdjust="spacingAndGlyphs">Normalized Value</text>
<defs><clipPath id="c0"><rect x="53.3" y="12.7" width="272.80" height="86.0"/></clipPath><clipPath id="c1"><rect x="416.5" y="12.7" width="272.80" height="86.0"/></clipPath><clipPath id="c2"><rect x="53.3" y="146.6" width="272.80" height="86.0"/></clipPath><clipPath id="c3"><rect x="416.5" y="146.6" width="272.80" height="86.0"/></clipPath><clipPath id="c4"><rect x="53.3" y="280.8" width="272.80" height="86.0"/></clipPath><clipPath id="c5"><rect x="416.5" y="280.8" width="272.80" height="86.0"/></clipPath><clipPath id="c6"><rect x="53.3" y="415.1" width="272.80" height="86.0"/></clipPath><clipPath id="c7"><rect x="416.5" y="415.1" width="272.80" height="86.0"/></clipPath></defs>
<g clip-path="url(#c0)">
<polyline points="53.9,88.0 56.4,73.8 59.4,80.3 62.8,74.3 66.3,63.6 69.5,84.1 72.4,93.1 76.1,91.8 107.9,53.5 111.0,45.8 114.1,57.0 117.6,49.3 120.5,59.5 123.5,56.5 127.0,55.5 130.8,54.0 134.1,60.8 137.2,54.4 170.4,35.7 174.1,26.7 177.6,36.9 180.4,40.5 183.3,49.0 186.6,46.7 190.4,44.8 193.7,45.2 197.5,47.1 200.4,54.3 233.5,38.1 236.8,30.5 240.2,38.1 243.3,40.5 246.8,37.2 250.1,48.1 253.5,52.4 256.6,44.8 260.1,40.3 263.0,50.5 296.1,24.7 299.9,18.1 302.3,20.5 305.6,25.2 309.0,29.5 312.8,37.6 316.6,41.4 319.4,42.3 323.2,48.0 326.8,50.0" fill="none" stroke="#6a6a6a" stroke-width="1"/>
<path d="M50.1 84.9h7.6M50.1 91.1h7.6M53.9 84.9v6.2M52.6 70.7h7.6M52.6 76.9h7.6M56.4 70.7v6.2M55.6 77.2h7.6M55.6 83.4h7.6M59.4 77.2v6.2M59.0 71.2h7.6M59.0 77.4h7.6M62.8 71.2v6.2M62.5 60.5h7.6M62.5 66.7h7.6M66.3 60.5v6.2M65.7 81.0h7.6M65.7 87.2h7.6M69.5 81.0v6.2M68.6 90.0h7.6M68.6 96.2h7.6M72.4 90.0v6.2M72.3 88.7h7.6M72.3 94.9h7.6M76.1 88.7v6.2M104.1 50.4h7.6M104.1 56.6h7.6M107.9 50.4v6.2M107.2 42.7h7.6M107.2 48.9h7.6M111.0 42.7v6.2M110.3 53.9h7.6M110.3 60.1h7.6M114.1 53.9v6.2M113.8 46.2h7.6M113.8 52.4h7.6M117.6 46.2v6.2M116.7 56.4h7.6M116.7 62.6h7.6M120.5 56.4v6.2M119.7 53.4h7.6M119.7 59.6h7.6M123.5 53.4v6.2M123.2 52.4h7.6M123.2 58.6h7.6M127.0 52.4v6.2M127.0 50.9h7.6M127.0 57.1h7.6M130.8 50.9v6.2M130.3 57.7h7.6M130.3 63.9h7.6M134.1 57.7v6.2M133.4 51.3h7.6M133.4 57.5h7.6M137.2 51.3v6.2M166.6 32.6h7.6M166.6 38.8h7.6M170.4 32.6v6.2M170.3 23.6h7.6M170.3 29.8h7.6M174.1 23.6v6.2M173.8 33.8h7.6M173.8 40.0h7.6M177.6 33.8v6.2M176.6 37.4h7.6M176.6 43.6h7.6M180.4 37.4v6.2M179.5 45.9h7.6M179.5 52.1h7.6M183.3 45.9v6.2M182.8 43.6h7.6M182.8 49.8h7.6M186.6 43.6v6.2M186.6 41.7h7.6M186.6 47.9h7.6M190.4 41.7v6.2M189.9 42.1h7.6M189.9 48.3h7.6M193.7 42.1v6.2M193.7 44.0h7.6M193.7 50.2h7.6M197.5 44.0v6.2M196.6 51.2h7.6M196.6 57.4h7.6M200.4 51.2v6.2M229.7 35.0h7.6M229.7 41.2h7.6M233.5 35.0v6.2M233.0 27.4h7.6M233.0 33.6h7.6M236.8 27.4v6.2M236.4 35.0h7.6M236.4 41.2h7.6M240.2 35.0v6.2M239.5 37.4h7.6M239.5 43.6h7.6M243.3 37.4v6.2M243.0 34.1h7.6M243.0 40.3h7.6M246.8 34.1v6.2M246.3 45.0h7.6M246.3 51.2h7.6M250.1 45.0v6.2M249.7 49.3h7.6M249.7 55.5h7.6M253.5 49.3v6.2M252.8 41.7h7.6M252.8 47.9h7.6M256.6 41.7v6.2M256.3 37.2h7.6M256.3 43.4h7.6M260.1 37.2v6.2M259.2 47.4h7.6M259.2 53.6h7.6M263.0 47.4v6.2M292.3 21.6h7.6M292.3 27.8h7.6M296.1 21.6v6.2M296.1 15.0h7.6M296.1 21.2h7.6M299.9 15.0v6.2M298.5 17.4h7.6M298.5 23.6h7.6M302.3 17.4v6.2M301.8 22.1h7.6M301.8 28.3h7.6M305.6 22.1v6.2M305.2 26.4h7.6M305.2 32.6h7.6M309.0 26.4v6.2M309.0 34.5h7.6M309.0 40.7h7.6M312.8 34.5v6.2M312.8 38.3h7.6M312.8 44.5h7.6M316.6 38.3v6.2M315.6 39.2h7.6M315.6 45.4h7.6M319.4 39.2v6.2M319.4 44.9h7.6M319.4 51.1h7.6M323.2 44.9v6.2M323.0 46.9h7.6M323.0 53.1h7.6M326.8 46.9v6.2" stroke="#000" stroke-width="1.3" fill="none"/>
<ellipse cx="53.9" cy="88.0" rx="2.6" ry="2.7" fill="#000"/>
<ellipse cx="56.4" cy="73.8" rx="2.6" ry="2.7" fill="#000"/>
<ellipse cx="59.4" cy="80.3" rx="2.6" ry="2.7" fill="#000"/>
<ellipse cx="62.8" cy="74.3" rx="2.6" ry="2.7" fill="#000"/>
<ellipse cx="66.3" cy="63.6" rx="2.6" ry="2.7" fill="#000"/>
<ellipse cx="69.5" cy="84.1" rx="2.6" ry="2.7" fill="#000"/>
<ellipse cx="72.4" cy="93.1" rx="2.6" ry="2.7" fill="#000"/>
<ellipse cx="76.1" cy="91.8" rx="2.6" ry="2.7" fill="#000"/>
<ellipse cx="107.9" cy="53.5" rx="2.6" ry="2.7" fill="#000"/>
<ellipse cx="111.0" cy="45.8" rx="2.6" ry="2.7" fill="#000"/>
<ellipse cx="114.1" cy="57.0" rx="2.6" ry="2.7" fill="#000"/>
<ellipse cx="117.6" cy="49.3" rx="2.6" ry="2.7" fill="#000"/>
<ellipse cx="120.5" cy="59.5" rx="2.6" ry="2.7" fill="#000"/>
<ellipse cx="123.5" cy="56.5" rx="2.6" ry="2.7" fill="#000"/>
<ellipse cx="127.0" cy="55.5" rx="2.6" ry="2.7" fill="#000"/>
<ellipse cx="130.8" cy="54.0" rx="2.6" ry="2.7" fill="#000"/>
<ellipse cx="134.1" cy="60.8" rx="2.6" ry="2.7" fill="#000"/>
<ellipse cx="137.2" cy="54.4" rx="2.6" ry="2.7" fill="#000"/>
<ellipse cx="170.4" cy="35.7" rx="2.6" ry="2.7" fill="#000"/>
<ellipse cx="174.1" cy="26.7" rx="2.6" ry="2.7" fill="#000"/>
<ellipse cx="177.6" cy="36.9" rx="2.6" ry="2.7" fill="#000"/>
<ellipse cx="180.4" cy="40.5" rx="2.6" ry="2.7" fill="#000"/>
<ellipse cx="183.3" cy="49.0" rx="2.6" ry="2.7" fill="#000"/>
<ellipse cx="186.6" cy="46.7" rx="2.6" ry="2.7" fill="#000"/>
<ellipse cx="190.4" cy="44.8" rx="2.6" ry="2.7" fill="#000"/>
<ellipse cx="193.7" cy="45.2" rx="2.6" ry="2.7" fill="#000"/>
<ellipse cx="197.5" cy="47.1" rx="2.6" ry="2.7" fill="#000"/>
<ellipse cx="200.4" cy="54.3" rx="2.6" ry="2.7" fill="#000"/>
<ellipse cx="233.5" cy="38.1" rx="2.6" ry="2.7" fill="#000"/>
<ellipse cx="236.8" cy="30.5" rx="2.6" ry="2.7" fill="#000"/>
<ellipse cx="240.2" cy="38.1" rx="2.6" ry="2.7" fill="#000"/>
<ellipse cx="243.3" cy="40.5" rx="2.6" ry="2.7" fill="#000"/>
<ellipse cx="246.8" cy="37.2" rx="2.6" ry="2.7" fill="#000"/>
<ellipse cx="250.1" cy="48.1" rx="2.6" ry="2.7" fill="#000"/>
<ellipse cx="253.5" cy="52.4" rx="2.6" ry="2.7" fill="#000"/>
<ellipse cx="256.6" cy="44.8" rx="2.6" ry="2.7" fill="#000"/>
<ellipse cx="260.1" cy="40.3" rx="2.6" ry="2.7" fill="#000"/>
<ellipse cx="263.0" cy="50.5" rx="2.6" ry="2.7" fill="#000"/>
<ellipse cx="296.1" cy="24.7" rx="2.6" ry="2.7" fill="#000"/>
<ellipse cx="299.9" cy="18.1" rx="2.6" ry="2.7" fill="#000"/>
<ellipse cx="302.3" cy="20.5" rx="2.6" ry="2.7" fill="#000"/>
<ellipse cx="305.6" cy="25.2" rx="2.6" ry="2.7" fill="#000"/>
<ellipse cx="309.0" cy="29.5" rx="2.6" ry="2.7" fill="#000"/>
<ellipse cx="312.8" cy="37.6" rx="2.6" ry="2.7" fill="#000"/>
<ellipse cx="316.6" cy="41.4" rx="2.6" ry="2.7" fill="#000"/>
<ellipse cx="319.4" cy="42.3" rx="2.6" ry="2.7" fill="#000"/>
<ellipse cx="323.2" cy="48.0" rx="2.6" ry="2.7" fill="#000"/>
<ellipse cx="326.8" cy="50.0" rx="2.6" ry="2.7" fill="#000"/>
</g>
<g clip-path="url(#c1)">
<polyline points="414.5,36.5 417.3,37.5 419.2,41.2 421.6,39.9 423.5,37.8 425.6,38.2 427.3,36.2 429.8,34.4 432.4,29.5 436.0,31.1 438.9,19.8 471.1,24.3 474.2,33.3 477.6,26.5 480.5,35.1 482.3,36.6 484.1,36.9 487.4,36.2 490.7,36.6 492.8,33.0 494.3,29.3 496.8,28.3 500.4,27.5 534.0,24.6 536.9,36.2 538.4,36.9 540.5,39.1 542.7,40.2 545.2,42.3 548.1,44.9 550.3,46.0 553.5,45.2 556.1,39.8 559.7,39.8 562.9,40.9 597.1,34.7 600.3,46.6 603.3,56.1 606.6,53.7 610.0,60.9 613.3,59.9 616.1,61.3 618.5,57.1 620.9,52.8 623.3,50.9 626.1,52.8 660.0,52.6 663.4,69.3 665.1,73.9 667.4,76.2 669.4,77.9 671.4,80.2 673.1,82.5 675.9,82.7 679.3,82.5 682.8,74.5 686.2,73.9 688.8,74.0" fill="none" stroke="#111" stroke-width="1.3" stroke-linejoin="round"/>
<path d="M411.5 36.5h6.0M414.5 33.5v6.0M414.3 37.5h6.0M417.3 34.5v6.0M416.2 41.2h6.0M419.2 38.2v6.0M418.6 39.9h6.0M421.6 36.9v6.0M420.5 37.8h6.0M423.5 34.8v6.0M422.6 38.2h6.0M425.6 35.2v6.0M424.3 36.2h6.0M427.3 33.2v6.0M426.8 34.4h6.0M429.8 31.4v6.0M429.4 29.5h6.0M432.4 26.5v6.0M433.0 31.1h6.0M436.0 28.1v6.0M435.9 19.8h6.0M438.9 16.8v6.0M468.1 24.3h6.0M471.1 21.3v6.0M471.2 33.3h6.0M474.2 30.3v6.0M474.6 26.5h6.0M477.6 23.5v6.0M477.5 35.1h6.0M480.5 32.1v6.0M479.3 36.6h6.0M482.3 33.6v6.0M481.1 36.9h6.0M484.1 33.9v6.0M484.4 36.2h6.0M487.4 33.2v6.0M487.7 36.6h6.0M490.7 33.6v6.0M489.8 33.0h6.0M492.8 30.0v6.0M491.3 29.3h6.0M494.3 26.3v6.0M493.8 28.3h6.0M496.8 25.3v6.0M497.4 27.5h6.0M500.4 24.5v6.0M531.0 24.6h6.0M534.0 21.6v6.0M533.9 36.2h6.0M536.9 33.2v6.0M535.4 36.9h6.0M538.4 33.9v6.0M537.5 39.1h6.0M540.5 36.1v6.0M539.7 40.2h6.0M542.7 37.2v6.0M542.2 42.3h6.0M545.2 39.3v6.0M545.1 44.9h6.0M548.1 41.9v6.0M547.3 46.0h6.0M550.3 43.0v6.0M550.5 45.2h6.0M553.5 42.2v6.0M553.1 39.8h6.0M556.1 36.8v6.0M556.7 39.8h6.0M559.7 36.8v6.0M559.9 40.9h6.0M562.9 37.9v6.0M594.1 34.7h6.0M597.1 31.7v6.0M597.3 46.6h6.0M600.3 43.6v6.0M600.3 56.1h6.0M603.3 53.1v6.0M603.6 53.7h6.0M606.6 50.7v6.0M607.0 60.9h6.0M610.0 57.9v6.0M610.3 59.9h6.0M613.3 56.9v6.0M613.1 61.3h6.0M616.1 58.3v6.0M615.5 57.1h6.0M618.5 54.1v6.0M617.9 52.8h6.0M620.9 49.8v6.0M620.3 50.9h6.0M623.3 47.9v6.0M623.1 52.8h6.0M626.1 49.8v6.0M657.0 52.6h6.0M660.0 49.6v6.0M660.4 69.3h6.0M663.4 66.3v6.0M662.1 73.9h6.0M665.1 70.9v6.0M664.4 76.2h6.0M667.4 73.2v6.0M666.4 77.9h6.0M669.4 74.9v6.0M668.4 80.2h6.0M671.4 77.2v6.0M670.1 82.5h6.0M673.1 79.5v6.0M672.9 82.7h6.0M675.9 79.7v6.0M676.3 82.5h6.0M679.3 79.5v6.0M679.8 74.5h6.0M682.8 71.5v6.0M683.2 73.9h6.0M686.2 70.9v6.0M685.8 74.0h6.0M688.8 71.0v6.0" stroke="#111" stroke-width="1.1" fill="none"/>
</g>
<g clip-path="url(#c2)">
<polyline points="54.0,180.4 56.2,183.3 59.0,182.8 62.8,182.3 64.7,180.4 66.6,177.6 68.5,175.2 70.4,172.8 72.3,171.4 74.2,167.6 75.9,164.7 107.8,164.7 110.9,172.1 114.3,171.7 116.2,174.2 118.5,176.6 120.7,179.0 123.3,178.0 125.2,176.6 127.6,175.2 129.5,172.3 131.8,170.0 134.2,168.5 137.1,167.6 170.6,163.8 174.1,180.2 176.6,181.4 180.0,182.8 182.3,185.2 184.2,188.5 187.1,188.5 190.2,190.4 192.8,182.8 195.6,180.9 199.0,180.4 200.4,180.4 233.7,178.5 237.1,195.1 239.6,200.8 243.4,201.6 245.7,205.6 246.8,208.5 249.9,205.6 253.1,205.0 254.8,201.0 257.1,198.2 259.9,195.9 262.8,197.1 296.7,194.2 299.5,214.3 301.2,217.0 304.1,219.5 306.4,221.5 308.6,224.0 310.9,225.2 313.2,223.5 315.5,221.2 317.8,218.9 320.0,216.6 322.3,214.9 324.6,213.2" fill="none" stroke="#111" stroke-width="1.3" stroke-linejoin="round"/>
<path d="M51.0 180.4h6.0M54.0 177.4v6.0M53.2 183.3h6.0M56.2 180.3v6.0M56.0 182.8h6.0M59.0 179.8v6.0M59.8 182.3h6.0M62.8 179.3v6.0M61.7 180.4h6.0M64.7 177.4v6.0M63.6 177.6h6.0M66.6 174.6v6.0M65.5 175.2h6.0M68.5 172.2v6.0M67.4 172.8h6.0M70.4 169.8v6.0M69.3 171.4h6.0M72.3 168.4v6.0M71.2 167.6h6.0M74.2 164.6v6.0M72.9 164.7h6.0M75.9 161.7v6.0M104.8 164.7h6.0M107.8 161.7v6.0M107.9 172.1h6.0M110.9 169.1v6.0M111.3 171.7h6.0M114.3 168.7v6.0M113.2 174.2h6.0M116.2 171.2v6.0M115.5 176.6h6.0M118.5 173.6v6.0M117.7 179.0h6.0M120.7 176.0v6.0M120.3 178.0h6.0M123.3 175.0v6.0M122.2 176.6h6.0M125.2 173.6v6.0M124.6 175.2h6.0M127.6 172.2v6.0M126.5 172.3h6.0M129.5 169.3v6.0M128.8 170.0h6.0M131.8 167.0v6.0M131.2 168.5h6.0M134.2 165.5v6.0M134.1 167.6h6.0M137.1 164.6v6.0M167.6 163.8h6.0M170.6 160.8v6.0M171.1 180.2h6.0M174.1 177.2v6.0M173.6 181.4h6.0M176.6 178.4v6.0M177.0 182.8h6.0M180.0 179.8v6.0M179.3 185.2h6.0M182.3 182.2v6.0M181.2 188.5h6.0M184.2 185.5v6.0M184.1 188.5h6.0M187.1 185.5v6.0M187.2 190.4h6.0M190.2 187.4v6.0M189.8 182.8h6.0M192.8 179.8v6.0M192.6 180.9h6.0M195.6 177.9v6.0M196.0 180.4h6.0M199.0 177.4v6.0M197.4 180.4h6.0M200.4 177.4v6.0M230.7 178.5h6.0M233.7 175.5v6.0M234.1 195.1h6.0M237.1 192.1v6.0M236.6 200.8h6.0M239.6 197.8v6.0M240.4 201.6h6.0M243.4 198.6v6.0M242.7 205.6h6.0M245.7 202.6v6.0M243.8 208.5h6.0M246.8 205.5v6.0M246.9 205.6h6.0M249.9 202.6v6.0M250.1 205.0h6.0M253.1 202.0v6.0M251.8 201.0h6.0M254.8 198.0v6.0M254.1 198.2h6.0M257.1 195.2v6.0M256.9 195.9h6.0M259.9 192.9v6.0M259.8 197.1h6.0M262.8 194.1v6.0M293.7 194.2h6.0M296.7 191.2v6.0M296.5 214.3h6.0M299.5 211.3v6.0M298.2 217.0h6.0M301.2 214.0v6.0M301.1 219.5h6.0M304.1 216.5v6.0M303.4 221.5h6.0M306.4 218.5v6.0M305.6 224.0h6.0M308.6 221.0v6.0M307.9 225.2h6.0M310.9 222.2v6.0M310.2 223.5h6.0M313.2 220.5v6.0M312.5 221.2h6.0M315.5 218.2v6.0M314.8 218.9h6.0M317.8 215.9v6.0M317.0 216.6h6.0M320.0 213.6v6.0M319.3 214.9h6.0M322.3 211.9v6.0M321.6 213.2h6.0M324.6 210.2v6.0" stroke="#111" stroke-width="1.1" fill="none"/>
</g>
<g clip-path="url(#c3)">
<polyline points="417.7,203.5 419.8,204.6 422.4,202.0 425.0,205.6 427.6,208.8 429.5,211.9 432.4,213.0 434.4,217.7 436.5,220.3 438.6,221.3 471.1,223.8 472.8,213.0 474.4,211.0 477.8,207.8 481.2,206.4 484.4,206.4 487.6,206.4 490.4,209.3 493.1,212.3 496.4,215.0 500.4,225.5 534.1,221.9 536.4,205.3 538.7,203.1 541.5,200.2 544.2,196.2 546.1,194.5 548.4,193.4 550.7,193.4 552.4,195.7 554.9,197.4 557.5,199.6 559.8,204.2 562.6,207.1 597.0,207.1 599.6,191.4 601.7,189.3 603.8,186.7 605.9,182.5 609.6,181.4 612.7,180.4 615.3,182.0 618.0,185.1 620.0,188.8 622.7,189.8 625.3,193.0 660.0,194.6 662.8,170.1 664.5,164.4 666.8,163.2 669.6,161.5 673.1,162.7 674.8,159.8 676.5,158.1 678.8,160.4 680.5,165.0 682.8,168.4 685.0,169.5 686.7,171.8" fill="none" stroke="#111" stroke-width="1.3" stroke-linejoin="round"/>
<path d="M414.7 203.5h6.0M417.7 200.5v6.0M416.8 204.6h6.0M419.8 201.6v6.0M419.4 202.0h6.0M422.4 199.0v6.0M422.0 205.6h6.0M425.0 202.6v6.0M424.6 208.8h6.0M427.6 205.8v6.0M426.5 211.9h6.0M429.5 208.9v6.0M429.4 213.0h6.0M432.4 210.0v6.0M431.4 217.7h6.0M434.4 214.7v6.0M433.5 220.3h6.0M436.5 217.3v6.0M435.6 221.3h6.0M438.6 218.3v6.0M468.1 223.8h6.0M471.1 220.8v6.0M469.8 213.0h6.0M472.8 210.0v6.0M471.4 211.0h6.0M474.4 208.0v6.0M474.8 207.8h6.0M477.8 204.8v6.0M478.2 206.4h6.0M481.2 203.4v6.0M481.4 206.4h6.0M484.4 203.4v6.0M484.6 206.4h6.0M487.6 203.4v6.0M487.4 209.3h6.0M490.4 206.3v6.0M490.1 212.3h6.0M493.1 209.3v6.0M493.4 215.0h6.0M496.4 212.0v6.0M497.4 225.5h6.0M500.4 222.5v6.0M531.1 221.9h6.0M534.1 218.9v6.0M533.4 205.3h6.0M536.4 202.3v6.0M535.7 203.1h6.0M538.7 200.1v6.0M538.5 200.2h6.0M541.5 197.2v6.0M541.2 196.2h6.0M544.2 193.2v6.0M543.1 194.5h6.0M546.1 191.5v6.0M545.4 193.4h6.0M548.4 190.4v6.0M547.7 193.4h6.0M550.7 190.4v6.0M549.4 195.7h6.0M552.4 192.7v6.0M551.9 197.4h6.0M554.9 194.4v6.0M554.5 199.6h6.0M557.5 196.6v6.0M556.8 204.2h6.0M559.8 201.2v6.0M559.6 207.1h6.0M562.6 204.1v6.0M594.0 207.1h6.0M597.0 204.1v6.0M596.6 191.4h6.0M599.6 188.4v6.0M598.7 189.3h6.0M601.7 186.3v6.0M600.8 186.7h6.0M603.8 183.7v6.0M602.9 182.5h6.0M605.9 179.5v6.0M606.6 181.4h6.0M609.6 178.4v6.0M609.7 180.4h6.0M612.7 177.4v6.0M612.3 182.0h6.0M615.3 179.0v6.0M615.0 185.1h6.0M618.0 182.1v6.0M617.0 188.8h6.0M620.0 185.8v6.0M619.7 189.8h6.0M622.7 186.8v6.0M622.3 193.0h6.0M625.3 190.0v6.0M657.0 194.6h6.0M660.0 191.6v6.0M659.8 170.1h6.0M662.8 167.1v6.0M661.5 164.4h6.0M664.5 161.4v6.0M663.8 163.2h6.0M666.8 160.2v6.0M666.6 161.5h6.0M669.6 158.5v6.0M670.1 162.7h6.0M673.1 159.7v6.0M671.8 159.8h6.0M674.8 156.8v6.0M673.5 158.1h6.0M676.5 155.1v6.0M675.8 160.4h6.0M678.8 157.4v6.0M677.5 165.0h6.0M680.5 162.0v6.0M679.8 168.4h6.0M682.8 165.4v6.0M682.0 169.5h6.0M685.0 166.5v6.0M683.7 171.8h6.0M686.7 168.8v6.0" stroke="#111" stroke-width="1.1" fill="none"/>
</g>
<g clip-path="url(#c4)">
<polyline points="52.5,330.5 54.6,331.4 56.8,332.2 59.9,333.4 61.4,335.7 64.5,338.0 67.5,341.0 69.8,342.8 72.8,347.4 75.1,349.7 107.9,354.5 110.1,340.7 112.2,339.0 115.2,337.0 118.2,335.6 120.7,334.7 123.3,335.9 126.4,338.5 129.3,340.7 131.5,344.2 134.1,346.4 137.0,352.8 171.3,351.9 173.9,332.7 176.5,331.3 179.9,326.2 183.3,324.8 186.8,324.1 189.3,325.3 192.8,327.9 195.3,331.0 197.9,334.7 199.6,337.3 233.6,336.8 235.7,318.9 238.0,315.7 240.7,312.1 243.4,308.9 246.4,307.7 249.6,306.4 251.8,309.5 254.1,313.0 256.8,317.1 259.5,318.4 262.1,320.2 297.0,322.0 298.8,294.3 301.4,291.1 304.1,288.0 306.8,286.3 310.4,284.5 313.0,284.5 315.7,287.1 318.4,289.8 321.1,292.5 323.8,295.2 325.5,297.5" fill="none" stroke="#111" stroke-width="1.3" stroke-linejoin="round"/>
<path d="M49.5 330.5h6.0M52.5 327.5v6.0M51.6 331.4h6.0M54.6 328.4v6.0M53.8 332.2h6.0M56.8 329.2v6.0M56.9 333.4h6.0M59.9 330.4v6.0M58.4 335.7h6.0M61.4 332.7v6.0M61.5 338.0h6.0M64.5 335.0v6.0M64.5 341.0h6.0M67.5 338.0v6.0M66.8 342.8h6.0M69.8 339.8v6.0M69.8 347.4h6.0M72.8 344.4v6.0M72.1 349.7h6.0M75.1 346.7v6.0M104.9 354.5h6.0M107.9 351.5v6.0M107.1 340.7h6.0M110.1 337.7v6.0M109.2 339.0h6.0M112.2 336.0v6.0M112.2 337.0h6.0M115.2 334.0v6.0M115.2 335.6h6.0M118.2 332.6v6.0M117.7 334.7h6.0M120.7 331.7v6.0M120.3 335.9h6.0M123.3 332.9v6.0M123.4 338.5h6.0M126.4 335.5v6.0M126.3 340.7h6.0M129.3 337.7v6.0M128.5 344.2h6.0M131.5 341.2v6.0M131.1 346.4h6.0M134.1 343.4v6.0M134.0 352.8h6.0M137.0 349.8v6.0M168.3 351.9h6.0M171.3 348.9v6.0M170.9 332.7h6.0M173.9 329.7v6.0M173.5 331.3h6.0M176.5 328.3v6.0M176.9 326.2h6.0M179.9 323.2v6.0M180.3 324.8h6.0M183.3 321.8v6.0M183.8 324.1h6.0M186.8 321.1v6.0M186.3 325.3h6.0M189.3 322.3v6.0M189.8 327.9h6.0M192.8 324.9v6.0M192.3 331.0h6.0M195.3 328.0v6.0M194.9 334.7h6.0M197.9 331.7v6.0M196.6 337.3h6.0M199.6 334.3v6.0M230.6 336.8h6.0M233.6 333.8v6.0M232.7 318.9h6.0M235.7 315.9v6.0M235.0 315.7h6.0M238.0 312.7v6.0M237.7 312.1h6.0M240.7 309.1v6.0M240.4 308.9h6.0M243.4 305.9v6.0M243.4 307.7h6.0M246.4 304.7v6.0M246.6 306.4h6.0M249.6 303.4v6.0M248.8 309.5h6.0M251.8 306.5v6.0M251.1 313.0h6.0M254.1 310.0v6.0M253.8 317.1h6.0M256.8 314.1v6.0M256.5 318.4h6.0M259.5 315.4v6.0M259.1 320.2h6.0M262.1 317.2v6.0M294.0 322.0h6.0M297.0 319.0v6.0M295.8 294.3h6.0M298.8 291.3v6.0M298.4 291.1h6.0M301.4 288.1v6.0M301.1 288.0h6.0M304.1 285.0v6.0M303.8 286.3h6.0M306.8 283.3v6.0M307.4 284.5h6.0M310.4 281.5v6.0M310.0 284.5h6.0M313.0 281.5v6.0M312.7 287.1h6.0M315.7 284.1v6.0M315.4 289.8h6.0M318.4 286.8v6.0M318.1 292.5h6.0M321.1 289.5v6.0M320.8 295.2h6.0M323.8 292.2v6.0M322.5 297.5h6.0M325.5 294.5v6.0" stroke="#111" stroke-width="1.1" fill="none"/>
</g>
<g clip-path="url(#c5)">
<polyline points="417.8,358.5 420.6,359.9 423.5,360.4 425.4,361.8 427.3,363.3 429.2,363.7 431.5,360.4 433.4,360.9 435.8,360.4 437.7,359.0 439.6,358.0 470.9,331.4 473.6,332.8 475.9,335.2 478.3,337.1 480.7,338.5 483.5,339.5 485.4,342.3 487.3,348.0 490.2,346.6 493.0,346.1 494.9,346.6 497.3,347.1 500.2,344.2 533.7,320.4 537.2,319.5 540.2,320.9 543.8,331.8 546.9,331.4 550.2,331.8 553.5,332.8 556.8,335.2 560.2,333.3 563.5,333.7 596.2,308.5 599.7,306.6 602.1,314.7 604.5,317.6 607.3,318.5 610.2,319.9 612.6,320.4 615.4,329.0 617.8,330.9 620.6,331.8 623.0,331.8 625.4,329.9 627.3,328.0 659.4,301.7 661.7,298.8 663.4,297.7 666.2,302.2 669.1,311.9 671.4,318.2 673.6,320.5 676.5,322.8 679.3,324.5 681.6,325.6 683.9,327.9 686.2,329.0 687.9,329.6" fill="none" stroke="#111" stroke-width="1.3" stroke-linejoin="round"/>
<path d="M414.8 358.5h6.0M417.8 355.5v6.0M417.6 359.9h6.0M420.6 356.9v6.0M420.5 360.4h6.0M423.5 357.4v6.0M422.4 361.8h6.0M425.4 358.8v6.0M424.3 363.3h6.0M427.3 360.3v6.0M426.2 363.7h6.0M429.2 360.7v6.0M428.5 360.4h6.0M431.5 357.4v6.0M430.4 360.9h6.0M433.4 357.9v6.0M432.8 360.4h6.0M435.8 357.4v6.0M434.7 359.0h6.0M437.7 356.0v6.0M436.6 358.0h6.0M439.6 355.0v6.0M467.9 331.4h6.0M470.9 328.4v6.0M470.6 332.8h6.0M473.6 329.8v6.0M472.9 335.2h6.0M475.9 332.2v6.0M475.3 337.1h6.0M478.3 334.1v6.0M477.7 338.5h6.0M480.7 335.5v6.0M480.5 339.5h6.0M483.5 336.5v6.0M482.4 342.3h6.0M485.4 339.3v6.0M484.3 348.0h6.0M487.3 345.0v6.0M487.2 346.6h6.0M490.2 343.6v6.0M490.0 346.1h6.0M493.0 343.1v6.0M491.9 346.6h6.0M494.9 343.6v6.0M494.3 347.1h6.0M497.3 344.1v6.0M497.2 344.2h6.0M500.2 341.2v6.0M530.7 320.4h6.0M533.7 317.4v6.0M534.2 319.5h6.0M537.2 316.5v6.0M537.2 320.9h6.0M540.2 317.9v6.0M540.8 331.8h6.0M543.8 328.8v6.0M543.9 331.4h6.0M546.9 328.4v6.0M547.2 331.8h6.0M550.2 328.8v6.0M550.5 332.8h6.0M553.5 329.8v6.0M553.8 335.2h6.0M556.8 332.2v6.0M557.2 333.3h6.0M560.2 330.3v6.0M560.5 333.7h6.0M563.5 330.7v6.0M593.2 308.5h6.0M596.2 305.5v6.0M596.7 306.6h6.0M599.7 303.6v6.0M599.1 314.7h6.0M602.1 311.7v6.0M601.5 317.6h6.0M604.5 314.6v6.0M604.3 318.5h6.0M607.3 315.5v6.0M607.2 319.9h6.0M610.2 316.9v6.0M609.6 320.4h6.0M612.6 317.4v6.0M612.4 329.0h6.0M615.4 326.0v6.0M614.8 330.9h6.0M617.8 327.9v6.0M617.6 331.8h6.0M620.6 328.8v6.0M620.0 331.8h6.0M623.0 328.8v6.0M622.4 329.9h6.0M625.4 326.9v6.0M624.3 328.0h6.0M627.3 325.0v6.0M656.4 301.7h6.0M659.4 298.7v6.0M658.7 298.8h6.0M661.7 295.8v6.0M660.4 297.7h6.0M663.4 294.7v6.0M663.2 302.2h6.0M666.2 299.2v6.0M666.1 311.9h6.0M669.1 308.9v6.0M668.4 318.2h6.0M671.4 315.2v6.0M670.6 320.5h6.0M673.6 317.5v6.0M673.5 322.8h6.0M676.5 319.8v6.0M676.3 324.5h6.0M679.3 321.5v6.0M678.6 325.6h6.0M681.6 322.6v6.0M680.9 327.9h6.0M683.9 324.9v6.0M683.2 329.0h6.0M686.2 326.0v6.0M684.9 329.6h6.0M687.9 326.6v6.0" stroke="#111" stroke-width="1.1" fill="none"/>
</g>
<g clip-path="url(#c6)">
<polyline points="52.5,458.0 54.8,449.6 56.4,438.5 59.8,432.7 62.7,438.3 66.1,430.5 69.3,439.0 72.1,440.2 75.5,450.2 107.8,457.8 110.8,438.4 113.1,431.0 116.0,429.6 118.2,427.8 120.5,427.0 123.4,421.3 126.2,421.3 130.6,433.2 133.6,424.7 137.1,440.7 170.8,462.3 173.9,442.4 176.5,433.2 178.2,429.8 180.5,428.7 183.4,432.7 186.8,425.8 190.2,428.7 193.3,425.8 196.5,441.8 199.9,444.1 233.4,465.9 237.0,458.0 239.0,446.0 241.6,444.0 243.6,442.6 247.0,443.3 249.9,438.6 253.6,444.6 256.5,436.0 258.9,452.0 260.9,455.3 263.2,458.0 296.3,487.7 299.9,472.4 303.1,461.0 306.8,466.7 309.6,449.7 312.8,441.7 315.2,448.1 317.7,448.9 318.5,453.8 321.7,457.8 324.1,461.0 325.3,459.4" fill="none" stroke="#111" stroke-width="1.3" stroke-linejoin="round"/>
<polyline points="56.4,439.2 69.3,439.2" fill="none" stroke="#111" stroke-width="1.2"/>
<path d="M49.5 458.0h6.0M52.5 455.0v6.0M51.8 449.6h6.0M54.8 446.6v6.0M53.4 438.5h6.0M56.4 435.5v6.0M56.8 432.7h6.0M59.8 429.7v6.0M59.7 438.3h6.0M62.7 435.3v6.0M63.1 430.5h6.0M66.1 427.5v6.0M66.3 439.0h6.0M69.3 436.0v6.0M69.1 440.2h6.0M72.1 437.2v6.0M72.5 450.2h6.0M75.5 447.2v6.0M104.8 457.8h6.0M107.8 454.8v6.0M107.8 438.4h6.0M110.8 435.4v6.0M110.1 431.0h6.0M113.1 428.0v6.0M113.0 429.6h6.0M116.0 426.6v6.0M115.2 427.8h6.0M118.2 424.8v6.0M117.5 427.0h6.0M120.5 424.0v6.0M120.4 421.3h6.0M123.4 418.3v6.0M123.2 421.3h6.0M126.2 418.3v6.0M127.6 433.2h6.0M130.6 430.2v6.0M130.6 424.7h6.0M133.6 421.7v6.0M134.1 440.7h6.0M137.1 437.7v6.0M167.8 462.3h6.0M170.8 459.3v6.0M170.9 442.4h6.0M173.9 439.4v6.0M173.5 433.2h6.0M176.5 430.2v6.0M175.2 429.8h6.0M178.2 426.8v6.0M177.5 428.7h6.0M180.5 425.7v6.0M180.4 432.7h6.0M183.4 429.7v6.0M183.8 425.8h6.0M186.8 422.8v6.0M187.2 428.7h6.0M190.2 425.7v6.0M190.3 425.8h6.0M193.3 422.8v6.0M193.5 441.8h6.0M196.5 438.8v6.0M196.9 444.1h6.0M199.9 441.1v6.0M230.4 465.9h6.0M233.4 462.9v6.0M234.0 458.0h6.0M237.0 455.0v6.0M236.0 446.0h6.0M239.0 443.0v6.0M238.6 444.0h6.0M241.6 441.0v6.0M240.6 442.6h6.0M243.6 439.6v6.0M244.0 443.3h6.0M247.0 440.3v6.0M246.9 438.6h6.0M249.9 435.6v6.0M250.6 444.6h6.0M253.6 441.6v6.0M253.5 436.0h6.0M256.5 433.0v6.0M255.9 452.0h6.0M258.9 449.0v6.0M257.9 455.3h6.0M260.9 452.3v6.0M260.2 458.0h6.0M263.2 455.0v6.0M293.3 487.7h6.0M296.3 484.7v6.0M296.9 472.4h6.0M299.9 469.4v6.0M300.1 461.0h6.0M303.1 458.0v6.0M303.8 466.7h6.0M306.8 463.7v6.0M306.6 449.7h6.0M309.6 446.7v6.0M309.8 441.7h6.0M312.8 438.7v6.0M312.2 448.1h6.0M315.2 445.1v6.0M314.7 448.9h6.0M317.7 445.9v6.0M315.5 453.8h6.0M318.5 450.8v6.0M318.7 457.8h6.0M321.7 454.8v6.0M321.1 461.0h6.0M324.1 458.0v6.0M322.3 459.4h6.0M325.3 456.4v6.0M54.0 430.0h6.0M57.0 427.0v6.0M54.0 443.6h6.0M57.0 440.6v6.0" stroke="#111" stroke-width="1.1" fill="none"/>
</g>
<g clip-path="url(#c7)">
<polyline points="415.5,460.0 417.6,452.6 419.8,437.2 423.0,421.8 426.1,435.0 429.0,442.4 432.4,442.9 435.8,458.3 439.2,450.9 470.9,464.6 474.4,437.2 475.8,441.8 478.1,442.4 480.7,448.1 484.2,431.9 486.1,437.8 488.9,440.1 491.0,448.1 493.5,448.1 495.8,444.6 498.1,441.8 500.6,440.7 533.7,457.3 536.3,442.6 538.3,439.3 540.3,437.3 542.3,434.6 545.0,431.3 546.3,427.3 550.3,421.3 553.0,427.3 556.3,430.0 559.6,465.3 563.0,464.6 597.2,474.0 600.2,485.4 603.3,445.9 607.1,432.2 610.1,438.3 613.2,446.6 616.2,445.1 619.7,451.2 622.3,449.7 626.1,436.0 659.1,480.6 663.4,490.3 666.2,456.3 669.9,499.5 673.1,447.5 676.3,449.1 679.6,472.5 682.8,453.1 686.0,462.8 688.1,458.8" fill="none" stroke="#111" stroke-width="1.3" stroke-linejoin="round"/>
<path d="M412.5 460.0h6.0M415.5 457.0v6.0M414.6 452.6h6.0M417.6 449.6v6.0M416.8 437.2h6.0M419.8 434.2v6.0M420.0 421.8h6.0M423.0 418.8v6.0M423.1 435.0h6.0M426.1 432.0v6.0M426.0 442.4h6.0M429.0 439.4v6.0M429.4 442.9h6.0M432.4 439.9v6.0M432.8 458.3h6.0M435.8 455.3v6.0M436.2 450.9h6.0M439.2 447.9v6.0M467.9 464.6h6.0M470.9 461.6v6.0M471.4 437.2h6.0M474.4 434.2v6.0M472.8 441.8h6.0M475.8 438.8v6.0M475.1 442.4h6.0M478.1 439.4v6.0M477.7 448.1h6.0M480.7 445.1v6.0M481.2 431.9h6.0M484.2 428.9v6.0M483.1 437.8h6.0M486.1 434.8v6.0M485.9 440.1h6.0M488.9 437.1v6.0M488.0 448.1h6.0M491.0 445.1v6.0M490.5 448.1h6.0M493.5 445.1v6.0M492.8 444.6h6.0M495.8 441.6v6.0M495.1 441.8h6.0M498.1 438.8v6.0M497.6 440.7h6.0M500.6 437.7v6.0M530.7 457.3h6.0M533.7 454.3v6.0M533.3 442.6h6.0M536.3 439.6v6.0M535.3 439.3h6.0M538.3 436.3v6.0M537.3 437.3h6.0M540.3 434.3v6.0M539.3 434.6h6.0M542.3 431.6v6.0M542.0 431.3h6.0M545.0 428.3v6.0M543.3 427.3h6.0M546.3 424.3v6.0M547.3 421.3h6.0M550.3 418.3v6.0M550.0 427.3h6.0M553.0 424.3v6.0M553.3 430.0h6.0M556.3 427.0v6.0M556.6 465.3h6.0M559.6 462.3v6.0M560.0 464.6h6.0M563.0 461.6v6.0M594.2 474.0h6.0M597.2 471.0v6.0M597.2 485.4h6.0M600.2 482.4v6.0M600.3 445.9h6.0M603.3 442.9v6.0M604.1 432.2h6.0M607.1 429.2v6.0M607.1 438.3h6.0M610.1 435.3v6.0M610.2 446.6h6.0M613.2 443.6v6.0M613.2 445.1h6.0M616.2 442.1v6.0M616.7 451.2h6.0M619.7 448.2v6.0M619.3 449.7h6.0M622.3 446.7v6.0M623.1 436.0h6.0M626.1 433.0v6.0M656.1 480.6h6.0M659.1 477.6v6.0M660.4 490.3h6.0M663.4 487.3v6.0M663.2 456.3h6.0M666.2 453.3v6.0M666.9 499.5h6.0M669.9 496.5v6.0M670.1 447.5h6.0M673.1 444.5v6.0M673.3 449.1h6.0M676.3 446.1v6.0M676.6 472.5h6.0M679.6 469.5v6.0M679.8 453.1h6.0M682.8 450.1v6.0M683.0 462.8h6.0M686.0 459.8v6.0M685.1 458.8h6.0M688.1 455.8v6.0" stroke="#111" stroke-width="1.1" fill="none"/>
</g>
</svg></body></html>
